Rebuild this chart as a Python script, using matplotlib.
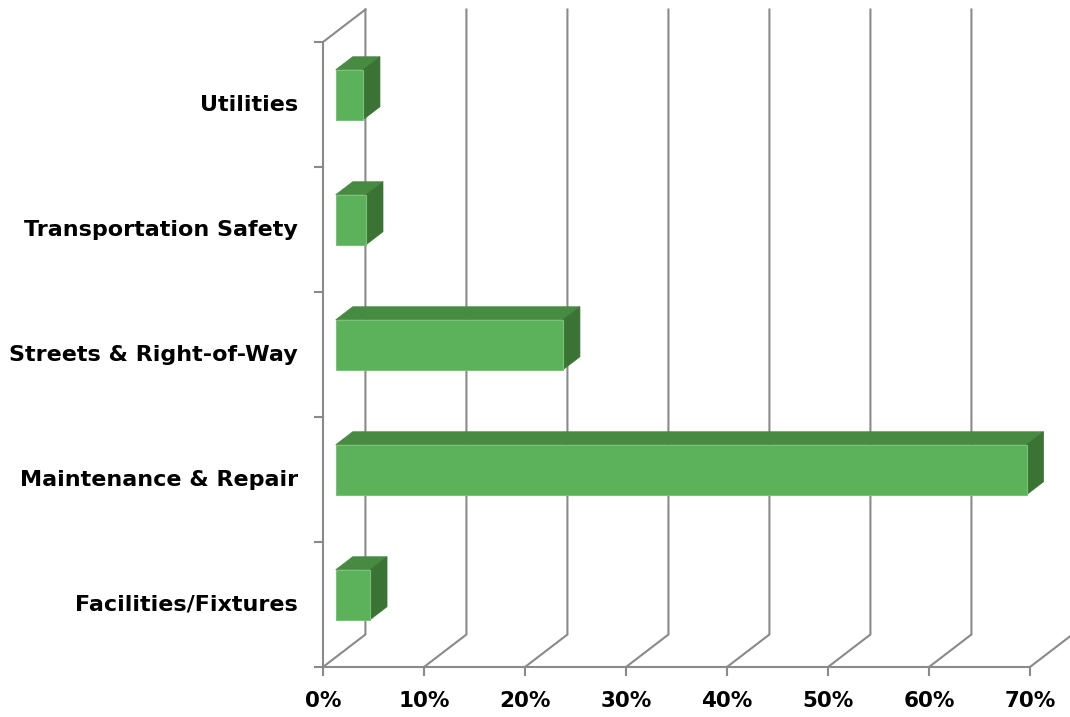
import matplotlib.pyplot as plt
from matplotlib.patches import Polygon

# data (bottom to top)
categories = ["Facilities/Fixtures", "Maintenance & Repair", "Streets & Right-of-Way",
              "Transportation Safety", "Utilities"]
values = [3.4, 68.4, 22.5, 3.0, 2.7]
ticks = [0, 10, 20, 30, 40, 50, 60, 70]
tick_labels = [f"{t}%" for t in ticks]

# 3d look: offset of the back wall in data units
DX, DY = 4.2, 0.26
BAR_D0, BAR_D1 = 0.3, 0.7   # bar depth range (fraction of full depth)
BAR_H = 0.4

FRONT = "#5BB25A"
TOP = "#478A42"
SIDE = "#3B7335"
EDGE = "#79C277"
GRID = "#8A8A8A"

fig = plt.figure(figsize=(10.70, 7.17), dpi=100)
ax = fig.add_axes([0, 0, 1, 1])
# pixel mapping: x = 323 + v*10.1, y = 667 - c*125
ax.set_xlim(-323 / 10.1, (1070 - 323) / 10.1)
ax.set_ylim((667 - 717) / 125, 667 / 125)
ax.axis("off")

n = len(categories)
lw = 1.5

# back wall gridlines with diagonal floor lines
for t in ticks:
    ax.plot([t, t + DX, t + DX], [0, DY, n + DY], c=GRID, lw=lw, zorder=1,
            solid_joinstyle="miter")
    ax.plot([t, t], [0, -0.065], c=GRID, lw=lw, zorder=1)
# left wall
ax.plot([0, 0, DX], [0, n, n + DY], c=GRID, lw=lw, zorder=1, solid_joinstyle="miter")
# floor front edge
ax.plot([0, ticks[-1]], [0, 0], c=GRID, lw=lw, zorder=1)
for i in range(n + 1):
    ax.plot([-0.8, 0], [i, i], c=GRID, lw=lw, zorder=1)

# bars
ddx = (BAR_D1 - BAR_D0) * DX
ddy = (BAR_D1 - BAR_D0) * DY
for i, v in enumerate(values):
    x0 = BAR_D0 * DX
    y0 = i + (1 - BAR_H) / 2 + BAR_D0 * DY
    y1 = y0 + BAR_H
    x1 = x0 + v
    top = Polygon([(x0, y1), (x1, y1), (x1 + ddx, y1 + ddy), (x0 + ddx, y1 + ddy)],
                  closed=True, fc=TOP, ec=TOP, lw=0.5, zorder=3)
    side = Polygon([(x1, y0), (x1 + ddx, y0 + ddy), (x1 + ddx, y1 + ddy), (x1, y1)],
                   closed=True, fc=SIDE, ec=SIDE, lw=0.5, zorder=3)
    front = Polygon([(x0, y0), (x1, y0), (x1, y1), (x0, y1)],
                    closed=True, fc=FRONT, ec=EDGE, lw=0.8, zorder=4)
    ax.add_patch(top)
    ax.add_patch(side)
    ax.add_patch(front)

# labels
for i, name in enumerate(categories):
    ax.text(-2.5, i + 0.5, name, ha="right", va="center", fontsize=16,
            fontweight="bold", color="black")
for t, lab in zip(ticks, tick_labels):
    ax.text(t, -0.272, lab, ha="center", va="center", fontsize=15.5,
            fontweight="bold", color="black")

fig.savefig("out.png", dpi=100)
